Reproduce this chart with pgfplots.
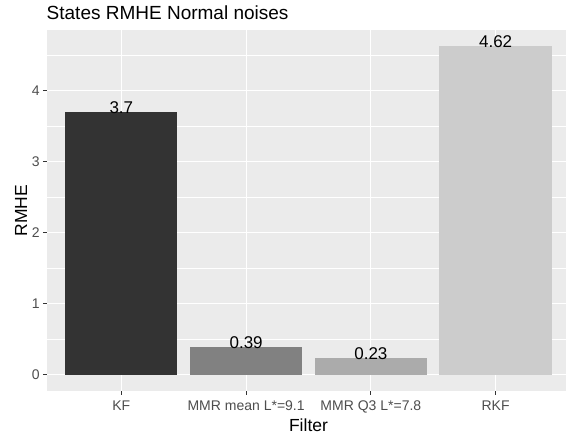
\documentclass[border=0pt]{standalone}
\usepackage{pgfplots}
\pgfplotsset{compat=1.18}
\usepackage{fontspec}
\setmainfont{Liberation Sans}
\definecolor{panelbg}{HTML}{EBEBEB}
\definecolor{cA}{HTML}{333333}
\definecolor{cB}{HTML}{818181}
\definecolor{cC}{HTML}{ABABAB}
\definecolor{cD}{HTML}{CCCCCC}
\definecolor{ticktxt}{HTML}{4D4D4D}
\begin{document}
\begin{tikzpicture}[x=1pt,y=1pt]
\useasboundingbox (0,0) rectangle (566,438);
\begin{axis}[
  at={(46.5pt,47pt)}, anchor=south west,
  width=524pt, height=361pt, scale only axis,
  xmin=0.4, xmax=4.6, ymin=-0.231, ymax=4.851,
  axis background/.style={fill=panelbg},
  axis line style={draw=none},
  xtick={1,2,3,4},
  xticklabels={KF,MMR mean L*=9.1,MMR Q3 L*=7.8,RKF},
  ytick={0,1,2,3,4},
  minor ytick={0.5,1.5,2.5,3.5,4.5},
  grid=both,
  major grid style={white, line width=1.07pt},
  minor grid style={white, line width=0.53pt},
  minor tick length=0pt,
  major tick length=3.7pt,
  tick align=outside,
  xtick pos=bottom, ytick pos=left,
  tick style={draw=cA, line width=1.07pt},
  /pgf/number format/assume math mode=true,
  ticklabel style={font=\fontsize{14}{16}\selectfont, text=ticktxt, inner sep=0pt},
  xticklabel style={anchor=base, yshift=-16pt},
  yticklabel style={anchor=east, xshift=-3pt},
  title={States RMHE Normal noises},
  title style={at={(axis description cs:0,1)}, anchor=base west, yshift=4pt, inner sep=0pt, font=\fontsize{19}{22}\selectfont},
  xlabel={Filter},
  xlabel style={at={(axis description cs:0.5,0)}, anchor=base, yshift=-41pt, inner sep=0pt, font=\fontsize{17.5}{20}\selectfont},
  ylabel={RMHE},
  ylabel style={at={([xshift=-19.5pt]axis description cs:0,0.5)}, anchor=base, inner sep=0pt, font=\fontsize{17.5}{20}\selectfont},
  ybar, bar width=0.9,
  nodes near coords, point meta=explicit symbolic,
  every node near coord/.append style={anchor=base, yshift=-1.5pt, inner sep=0pt, text=black, font=\fontsize{17}{20}\selectfont},
]
\addplot[ybar, bar shift=0pt, fill=cA, draw=none] coordinates {(1,3.7) [3.7]};
\addplot[ybar, bar shift=0pt, fill=cB, draw=none] coordinates {(2,0.39) [0.39]};
\addplot[ybar, bar shift=0pt, fill=cC, draw=none] coordinates {(3,0.23) [0.23]};
\addplot[ybar, bar shift=0pt, fill=cD, draw=none] coordinates {(4,4.62) [4.62]};
\end{axis}
\end{tikzpicture}
\end{document}
